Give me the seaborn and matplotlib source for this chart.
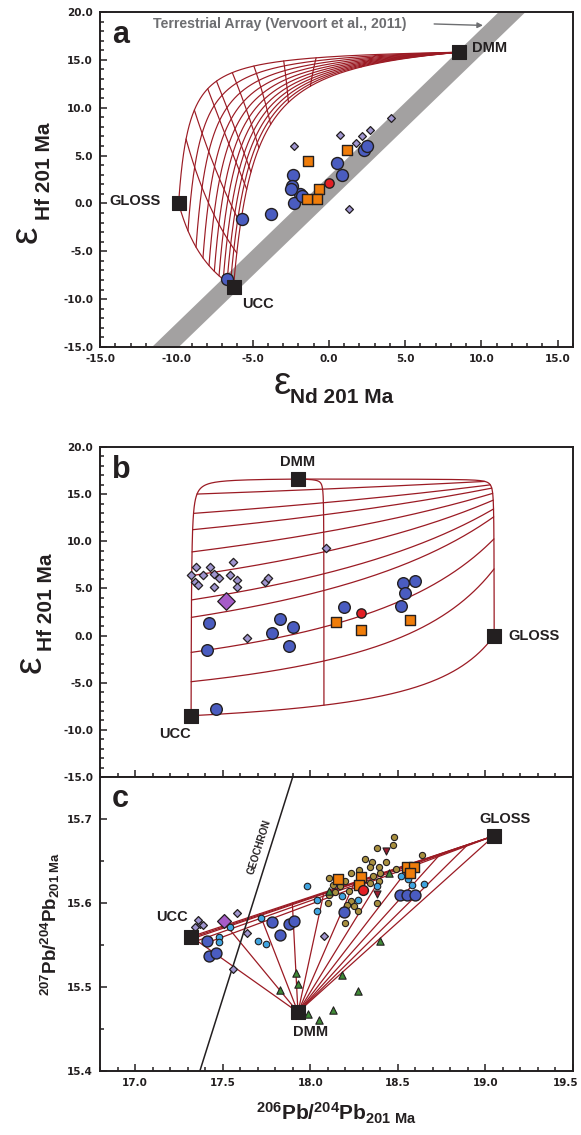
import numpy as np
import pandas as pd
import matplotlib
matplotlib.use("Agg")
import matplotlib.pyplot as plt
import seaborn as sns
from matplotlib.ticker import MultipleLocator
import matplotlib.transforms as mtransforms

# ---------------- end-members (order: DMM, UCC, GLOSS) ----------------
end_names = ["DMM", "UCC", "GLOSS"]
end_eNd = [8.55, -6.25, -9.85]
end_eHf_a = [15.8, -8.7, 0.0]
end_eHf_b = [16.6, -8.5, 0.0]
end_pb206 = [17.93, 17.32, 19.05]
end_pb207 = [15.47, 15.56, 15.68]
conc_Nd = [0.07, 27.0, 14.5]
conc_Hf = [0.157, 5.3, 1.2]
conc_Pb = [0.002, 17.0, 19.9]

gloss_share_a = [0.0, 0.1, 0.2, 0.3, 0.4, 0.5, 0.6, 0.7, 0.8, 0.9, 1.0]
gloss_share_b = [0.0, 0.4, 1.0]
gloss_share_c = [0.0, 0.1, 0.2, 0.3, 0.4, 0.5, 0.6, 0.7, 0.8, 0.9, 1.0]
dmm_frac_ab = [0.0, 0.85, 0.925, 0.96, 0.97, 0.98, 0.987, 0.992, 0.995, 0.998]
dmm_frac_c = [0.0, 0.99, 0.995, 0.998, 0.999]

terr_slope = 1.54
terr_icpt = 1.6
terr_halfwidth = 1.35

geochron_pb206 = [17.37, 17.90]
geochron_pb207 = [15.40, 15.75]

# ---------------- samples: panel a (eNd, eHf) ----------------
a_blue_nd = [2.3, 2.5, 0.55, 0.88, -2.37, -2.4, -1.87, -2.45, -2.3, -1.76, -5.72, -3.8, -6.7]
a_blue_hf = [5.63, 5.97, 4.24, 3.02, 3.02, 1.8, 0.94, 1.46, 0.07, 0.76, -1.67, -1.15, -7.9]
a_orange_nd = [1.2, -1.36, -0.66, -0.77, -1.43]
a_orange_hf = [5.55, 4.41, 1.46, 0.49, 0.42]
a_red_nd = [0.04]
a_red_hf = [2.16]
a_diam_nd = [4.06, 2.68, 2.19, 0.72, -2.3, 1.32, 1.75]
a_diam_hf = [8.93, 7.64, 7.0, 7.19, 5.97, -0.55, 6.3]

# ---------------- samples: panel b (206Pb/204Pb, eHf) ----------------
b_diam_pb = [17.35, 17.32, 17.39, 17.34, 17.36, 17.43, 17.45, 17.48, 17.45, 17.54, 17.56,
             17.58, 17.58, 17.74, 17.76, 18.09, 17.64]
b_diam_hf = [7.29, 6.41, 6.41, 5.7, 5.35, 7.29, 6.52, 6.06, 5.1, 6.41, 7.76,
             5.88, 5.17, 5.7, 6.06, 9.25, -0.3]
b_bigdiam_pb = [17.52]
b_bigdiam_hf = [3.68]
b_blue_pb = [17.42, 17.41, 17.46, 17.78, 17.83, 17.90, 17.88, 18.19, 18.53, 18.60, 18.54, 18.52]
b_blue_hf = [1.35, -1.48, -7.74, 0.22, 1.81, 0.86, -1.13, 3.05, 5.6, 5.81, 4.47, 3.15]
b_red_pb = [18.29]
b_red_hf = [2.41]
b_orange_pb = [18.15, 18.29, 18.57]
b_orange_hf = [1.45, 0.57, 1.63]

# ---------------- samples: panel c (206Pb/204Pb, 207Pb/204Pb) ----------------
c_bigdiam_pb = [17.51]
c_bigdiam_207 = [15.578]
c_diam_pb = [17.37, 17.34, 17.39, 17.36, 17.58, 17.64, 17.56, 18.08]
c_diam_207 = [15.575, 15.572, 15.574, 15.580, 15.588, 15.564, 15.521, 15.561]
c_blue_pb = [17.41, 17.42, 17.46, 17.78, 17.83, 17.88, 17.91, 18.19, 18.51, 18.55, 18.60]
c_blue_207 = [15.555, 15.537, 15.541, 15.577, 15.562, 15.575, 15.578, 15.589, 15.609, 15.610, 15.610]
c_cyan_pb = [17.48, 17.48, 17.54, 17.70, 17.75, 17.72, 17.98, 18.04, 18.04, 18.18, 18.27,
             18.38, 18.52, 18.58, 18.65, 18.56]
c_cyan_207 = [15.560, 15.553, 15.572, 15.555, 15.551, 15.582, 15.620, 15.603, 15.591, 15.608,
              15.604, 15.620, 15.632, 15.622, 15.623, 15.628]
c_tan_pb = [18.48, 18.47, 18.38, 18.64, 18.31, 18.35, 18.43, 18.39, 18.34, 18.49, 18.23, 18.11,
            18.20, 18.36, 18.39, 18.13, 18.17, 18.11, 18.14, 18.22, 18.23, 18.10, 18.21, 18.25,
            18.27, 18.20, 18.38, 18.34, 18.28, 18.40]
c_tan_207 = [15.679, 15.669, 15.666, 15.657, 15.652, 15.649, 15.649, 15.643, 15.643, 15.641,
             15.636, 15.630, 15.626, 15.632, 15.626, 15.622, 15.620, 15.610, 15.613, 15.614,
             15.602, 15.600, 15.598, 15.596, 15.590, 15.576, 15.600, 15.624, 15.639, 15.636]
c_tri_pb = [17.83, 17.92, 17.93, 18.18, 18.27, 18.13, 17.99, 18.05, 18.40, 18.45, 18.11]
c_tri_207 = [15.497, 15.517, 15.503, 15.514, 15.495, 15.473, 15.468, 15.461, 15.555, 15.636, 15.614]
c_vtri_pb = [18.43, 18.38]
c_vtri_207 = [15.662, 15.611]
c_orange_pb = [18.16, 18.29, 18.28, 18.55, 18.59, 18.57]
c_orange_207 = [15.628, 15.631, 15.622, 15.643, 15.643, 15.636]
c_red_pb = [18.30]
c_red_207 = [15.616]

# ---------------- ticks ----------------
a_xticks = [-15, -10, -5, 0, 5, 10, 15]
hf_yticks = [-15, -10, -5, 0, 5, 10, 15, 20]
pb206_ticks = [17.0, 17.5, 18.0, 18.5, 19.0, 19.5]
pb207_ticks = [15.4, 15.5, 15.6, 15.7]

# ---------------- style ----------------
sns.set_theme(style="ticks")
plt.rcParams["font.family"] = ["Liberation Sans", "DejaVu Sans"]
plt.rcParams["mathtext.fontset"] = "custom"
plt.rcParams["mathtext.rm"] = "Liberation Sans"
plt.rcParams["mathtext.bf"] = "Liberation Sans:bold"
plt.rcParams["mathtext.it"] = "Liberation Sans:italic"

DARK = "#231f20"
RED_LINE = "#9b1b24"
BLUE = "#4a5cc0"
ORANGE = "#f07d0a"
RED = "#e31e24"
LAV = "#9f95d0"
PURPLE = "#a65cc8"
CYAN = "#3fa4e0"
TAN = "#a88f3e"
GREEN = "#3f8a36"
DRED = "#9b1c30"


def mix(w, conc, val):
    w = np.asarray(w, float)  # shape (3, n)
    c = np.asarray(conc, float)[:, None]
    v = np.asarray(val, float)[:, None]
    m = w * c
    return (m * v).sum(0) / m.sum(0)


def ternary_weights(fd, s):
    fd = np.asarray(fd, float)
    s = np.asarray(s, float)
    fd, s = np.broadcast_arrays(fd, s)
    return np.vstack([fd, (1 - fd) * (1 - s), (1 - fd) * s])


sed_path = np.concatenate([[0.0], np.logspace(-6, 0, 800)])
fd_path = 1 - sed_path
s_path = np.linspace(0, 1, 300)

fig = plt.figure(figsize=(5.81, 11.35), dpi=100)
L = 100 / 581
W = 473 / 581
axA = fig.add_axes([L, 1 - 347 / 1135, W, 335 / 1135])
axB = fig.add_axes([L, 1 - 777 / 1135, W, 330 / 1135])
axC = fig.add_axes([L, 1 - 1071 / 1135, W, 294 / 1135])


def style_axes(ax):
    for sp in ax.spines.values():
        sp.set_color(DARK)
        sp.set_linewidth(1.4)
    ax.tick_params(which="both", direction="in", color=DARK, width=1.1,
                   top=False, right=False)
    ax.tick_params(which="major", length=5, pad=5)
    ax.tick_params(which="minor", length=2.8)
    ax.grid(False)


def scat(ax, x, y, marker, s, color, z, lw=0.9):
    sns.scatterplot(x=x, y=y, ax=ax, marker=marker, s=s, color=color,
                    edgecolor=DARK, linewidth=lw, zorder=z, legend=False)


tick_kw = dict(fontsize=7.5, fontweight="bold", family="DejaVu Sans", color=DARK)
end_kw = dict(fontsize=10.5, fontweight="bold", color=DARK)

# ================= panel a =================
ax = axA
style_axes(ax)
band_x = np.array([-15.0, 16.0])
band_y = terr_slope * band_x + terr_icpt
ax.fill_between(band_x, band_y - terr_halfwidth, band_y + terr_halfwidth,
                color="#a3a1a1", lw=0, zorder=1)
for s in gloss_share_a:
    w = ternary_weights(fd_path, s)
    ax.plot(mix(w, conc_Nd, end_eNd), mix(w, conc_Hf, end_eHf_a),
            color=RED_LINE, lw=0.85, zorder=2)
for fd in dmm_frac_ab:
    w = ternary_weights(fd, s_path)
    ax.plot(mix(w, conc_Nd, end_eNd), mix(w, conc_Hf, end_eHf_a),
            color=RED_LINE, lw=0.85, zorder=2)
scat(ax, a_diam_nd, a_diam_hf, "D", 16, LAV, 4)
scat(ax, a_blue_nd, a_blue_hf, "o", 74, BLUE, 5, 1.0)
scat(ax, a_orange_nd, a_orange_hf, "s", 60, ORANGE, 6, 1.0)
scat(ax, a_red_nd, a_red_hf, "o", 45, RED, 6, 1.0)
sns.scatterplot(x=end_eNd, y=end_eHf_a, ax=ax, marker="s", s=95, color=DARK,
                edgecolor=DARK, zorder=7, legend=False)
ax.text(9.4, 16.2, "DMM", ha="left", va="center", **end_kw)
ax.text(-11.0, 0.3, "GLOSS", ha="right", va="center", **end_kw)
ax.text(-5.7, -10.5, "UCC", ha="left", va="center", **end_kw)
ax.text(-11.55, 18.75, "Terrestrial Array (Vervoort et al., 2011)", ha="left",
        va="center", fontsize=10.2, fontweight="bold", color="#6d6e71")
ax.annotate("", xy=(10.1, 18.6), xytext=(6.9, 18.75),
            arrowprops=dict(arrowstyle="-|>", color="#6d6e71", lw=1.0,
                            mutation_scale=8, shrinkA=0, shrinkB=0))
ax.set_xlim(-15, 16)
ax.set_ylim(-15, 20)
ax.set_xticks(a_xticks)
ax.set_xticklabels([f"{v:.1f}" for v in a_xticks], **tick_kw)
ax.set_yticks(hf_yticks)
ax.set_yticklabels([f"{v:.1f}" for v in hf_yticks], **tick_kw)
ax.xaxis.set_minor_locator(MultipleLocator(1))
ax.yaxis.set_minor_locator(MultipleLocator(1))
ax.set_xlabel("")
ax.set_ylabel("")
ax.text(0.025, 0.975, "a", transform=ax.transAxes, ha="left", va="top",
        fontsize=22, fontweight="bold", color=DARK)
ax.text(-0.155, 0.335, "ε", transform=ax.transAxes, rotation=90, ha="center",
        va="center", fontsize=28, color=DARK)
ax.text(-0.118, 0.525, "Hf 201 Ma", transform=ax.transAxes, rotation=90,
        ha="center", va="center", fontsize=15, fontweight="bold", color=DARK)
ax.text(0.385, -0.11, "ε", transform=ax.transAxes, ha="center", va="center",
        fontsize=28, color=DARK)
ax.text(0.51, -0.152, "Nd 201 Ma", transform=ax.transAxes, ha="center",
        va="center", fontsize=15, fontweight="bold", color=DARK)

# ================= panel b =================
ax = axB
style_axes(ax)
for s in gloss_share_b:
    w = ternary_weights(fd_path, s)
    ax.plot(mix(w, conc_Pb, end_pb206), mix(w, conc_Hf, end_eHf_b),
            color=RED_LINE, lw=0.9, zorder=2)
for fd in dmm_frac_ab:
    w = ternary_weights(fd, s_path)
    ax.plot(mix(w, conc_Pb, end_pb206), mix(w, conc_Hf, end_eHf_b),
            color=RED_LINE, lw=0.9, zorder=2)
scat(ax, b_diam_pb, b_diam_hf, "D", 18, LAV, 4)
scat(ax, b_bigdiam_pb, b_bigdiam_hf, "D", 80, PURPLE, 5)
scat(ax, b_blue_pb, b_blue_hf, "o", 70, BLUE, 5, 1.0)
scat(ax, b_orange_pb, b_orange_hf, "s", 45, ORANGE, 6, 1.0)
scat(ax, b_red_pb, b_red_hf, "o", 45, RED, 6, 1.0)
sns.scatterplot(x=end_pb206, y=end_eHf_b, ax=ax, marker="s", s=95, color=DARK,
                edgecolor=DARK, zorder=7, legend=False)
ax.text(17.93, 18.4, "DMM", ha="center", va="center", **end_kw)
ax.text(17.23, -10.4, "UCC", ha="center", va="center", **end_kw)
ax.text(19.13, -0.05, "GLOSS", ha="left", va="center", **end_kw)
ax.set_xlim(16.8, 19.5)
ax.set_ylim(-15, 20)
ax.set_xticks(pb206_ticks)
ax.set_xticklabels([])
ax.tick_params(labelbottom=False)
ax.set_yticks(hf_yticks)
ax.set_yticklabels([f"{v:.1f}" for v in hf_yticks], **tick_kw)
ax.xaxis.set_minor_locator(MultipleLocator(0.1))
ax.yaxis.set_minor_locator(MultipleLocator(1))
ax.set_xlabel("")
ax.set_ylabel("")
ax.text(0.025, 0.975, "b", transform=ax.transAxes, ha="left", va="top",
        fontsize=22, fontweight="bold", color=DARK)
ax.text(-0.147, 0.34, "ε", transform=ax.transAxes, rotation=90, ha="center",
        va="center", fontsize=28, color=DARK)
ax.text(-0.114, 0.53, "Hf 201 Ma", transform=ax.transAxes, rotation=90,
        ha="center", va="center", fontsize=15, fontweight="bold", color=DARK)

# ================= panel c =================
ax = axC
style_axes(ax)
for s in gloss_share_c:
    w = ternary_weights(fd_path, s)
    ax.plot(mix(w, conc_Pb, end_pb206), mix(w, conc_Pb, end_pb207),
            color=RED_LINE, lw=0.9, zorder=2)
t_path = np.linspace(0, 1, 50)
for fd in dmm_frac_c:
    w = np.vstack([(1 - t_path) * fd, (1 - t_path) * (1 - fd), t_path])
    ax.plot(mix(w, conc_Pb, end_pb206), mix(w, conc_Pb, end_pb207),
            color=RED_LINE, lw=0.9, zorder=2)
ax.plot(geochron_pb206, geochron_pb207, color=DARK, lw=1.1, zorder=3)
scat(ax, c_tan_pb, c_tan_207, "o", 20, TAN, 4, 0.8)
scat(ax, c_cyan_pb, c_cyan_207, "o", 22, CYAN, 4, 0.8)
scat(ax, c_diam_pb, c_diam_207, "D", 16, LAV, 4)
scat(ax, c_tri_pb, c_tri_207, "^", 28, GREEN, 4, 0.8)
scat(ax, c_vtri_pb, c_vtri_207, "v", 26, DRED, 4, 0.8)
scat(ax, c_blue_pb, c_blue_207, "o", 62, BLUE, 5, 1.0)
scat(ax, c_bigdiam_pb, c_bigdiam_207, "D", 50, PURPLE, 5)
scat(ax, c_orange_pb, c_orange_207, "s", 50, ORANGE, 6, 1.0)
scat(ax, c_red_pb, c_red_207, "o", 50, RED, 6, 1.0)
sns.scatterplot(x=end_pb206, y=end_pb207, ax=ax, marker="s", s=95, color=DARK,
                edgecolor=DARK, zorder=7, legend=False)
ax.text(17.21, 15.583, "UCC", ha="center", va="center", **end_kw)
ax.text(19.11, 15.70, "GLOSS", ha="center", va="center", **end_kw)
ax.text(18.0, 15.446, "DMM", ha="center", va="center", **end_kw)
ax.set_xlim(16.8, 19.5)
ax.set_ylim(15.4, 15.75)
ax.set_xticks(pb206_ticks)
ax.set_xticklabels([f"{v:.1f}" for v in pb206_ticks], **tick_kw)
# keep the last label inside the figure
last = ax.get_xticklabels()[-1]
last.set_transform(last.get_transform() +
                   mtransforms.ScaledTranslation(-7 / 100, 0, fig.dpi_scale_trans))
ax.set_yticks(pb207_ticks)
ax.set_yticklabels([f"{v:.1f}" for v in pb207_ticks], **tick_kw)
ax.xaxis.set_minor_locator(MultipleLocator(0.1))
ax.yaxis.set_minor_locator(MultipleLocator(0.05))
ax.set_xlabel("")
ax.set_ylabel("")
p0 = ax.transData.transform((geochron_pb206[0], geochron_pb207[0]))
p1 = ax.transData.transform((geochron_pb206[1], geochron_pb207[1]))
ang = np.degrees(np.arctan2(p1[1] - p0[1], p1[0] - p0[0]))
ax.text(17.71, 15.667, "GEOCHRON", rotation=ang, rotation_mode="anchor",
        ha="center", va="center", fontsize=7, fontweight="bold", color=DARK)
ax.text(0.025, 0.975, "c", transform=ax.transAxes, ha="left", va="top",
        fontsize=22, fontweight="bold", color=DARK)
ax.text(-0.105, 0.5, r"$^{\mathbf{207}}\mathbf{Pb/}^{\mathbf{204}}\mathbf{Pb}_{\mathbf{201\ Ma}}$",
        transform=ax.transAxes, rotation=90, ha="center", va="center",
        fontsize=13.5, color=DARK)
ax.text(0.5, -0.145, r"$^{\mathbf{206}}\mathbf{Pb/}^{\mathbf{204}}\mathbf{Pb}_{\mathbf{201\ Ma}}$",
        transform=ax.transAxes, ha="center", va="center",
        fontsize=15, color=DARK)

fig.savefig("out.png", dpi=100, facecolor="white")
